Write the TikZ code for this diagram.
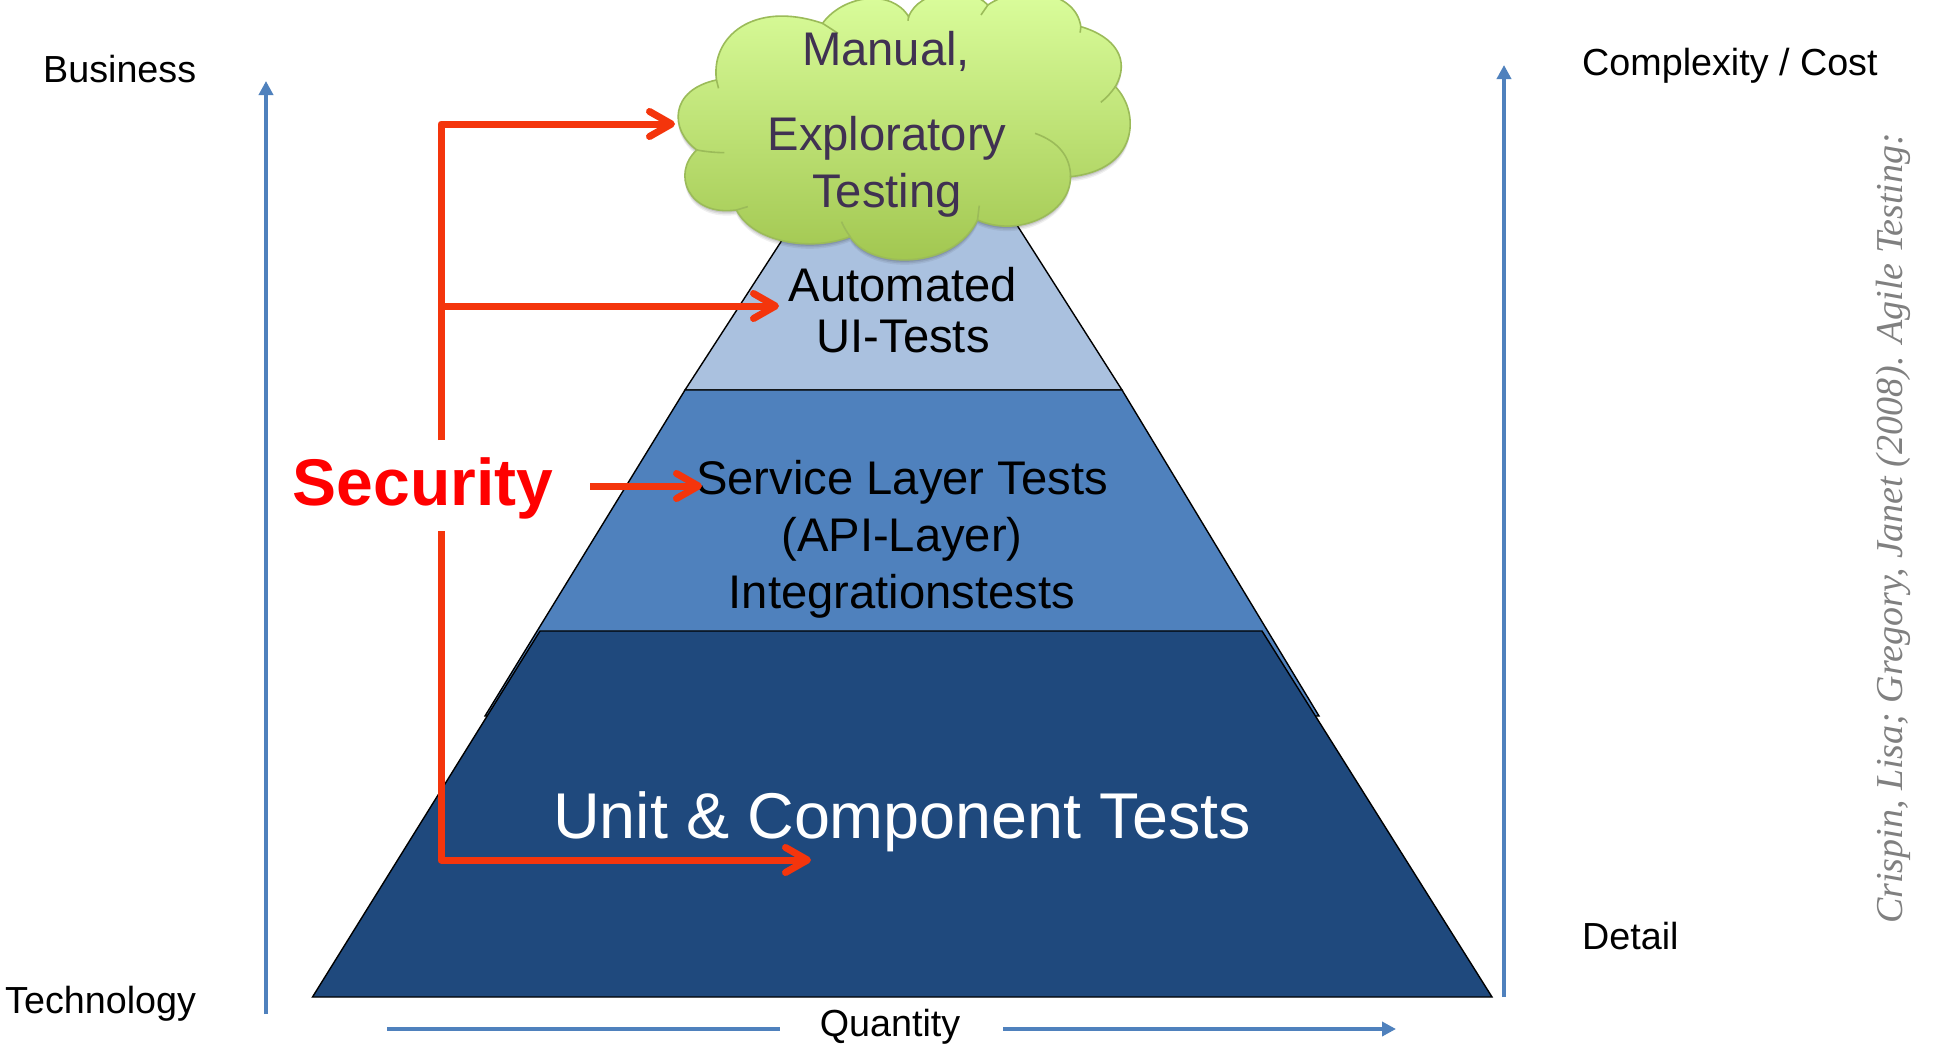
\documentclass[tikz,border=0pt]{standalone}
\usepackage{fontspec}
\setmainfont{Liberation Sans}
\newfontfamily\citefont{Liberation Serif}
\usetikzlibrary{arrows.meta}
\definecolor{layerlight}{HTML}{AAC1DF}
\definecolor{layermid}{HTML}{4F81BD}
\definecolor{layerdark}{HTML}{1F497D}
\definecolor{redline}{HTML}{F4350C}
\definecolor{cloudline}{HTML}{9BBB59}
\definecolor{cloudtext}{HTML}{403152}
\definecolor{cloudtop}{HTML}{DCFF9E}
\definecolor{cloudbot}{HTML}{A0C54E}
\newcommand{\cloudoutline}{(165,450) .. controls (85,390) and (85,270) .. (222,240)
 .. controls (205,110) and (330,0) .. (530,70)
 .. controls (590,-15) and (730,-35) .. (780,50)
 .. controls (810,-30) and (950,-50) .. (1010,15)
 .. controls (1100,-50) and (1265,-30) .. (1280,80)
 .. controls (1380,110) and (1425,180) .. (1380,260)
 .. controls (1455,340) and (1445,510) .. (1250,530)
 .. controls (1250,640) and (1100,715) .. (980,660)
 .. controls (910,810) and (670,810) .. (610,710)
 .. controls (500,755) and (330,730) .. (280,630)
 .. controls (140,650) and (90,520) .. (165,450) -- cycle}
\tikzset{
 layer/.style={draw=black,line width=1.4pt},
 lbl/.style={inner sep=0pt,anchor=base,font=\fontsize{47.2}{50}\selectfont},
 side/.style={inner sep=0pt,anchor=base west,font=\fontsize{37.7}{40}\selectfont},
 redarrow/.style={draw=redline,line width=7pt,line join=round,-{Straight Barb[length=22pt,width=25pt,line width=7pt,round]}},
 bluearrow/.style={draw=layermid,line width=4.6pt,-{Triangle[length=14pt,width=14pt]}},
 blueplain/.style={draw=layermid,line width=4.6pt},
 lobe/.style={draw=cloudline,line width=1.6pt}
}
\begin{document}
\begin{tikzpicture}[x=1pt,y=-1pt]
\useasboundingbox (0,0) rectangle (1937,1044);
\fill[white] (0,0) rectangle (1937,1044);
% pyramid layers
\path[layer,fill=layerlight] (685,390) -- (808,200) -- (1001,200) -- (1122,390) -- cycle;
\path[layer,fill=layermid] (685,390) -- (1122,390) -- (1319,716) -- (485,716) -- cycle;
\path[layer,fill=layerdark] (540,631) -- (1262,631) -- (1492,997) -- (312.5,997) -- cycle;
% cloud
\begin{scope}
\clip (0,0) rectangle (1937,1044);
\begin{scope}[shift={(640,0)},x=0.3444pt,y=-0.3333pt]
\foreach \o/\d in {0.06/5,0.08/3.5,0.10/2}{
 \fill[black,opacity=\o,shift={(0,\d*3)}] \cloudoutline;
}
\shade[top color=cloudtop,bottom color=cloudbot] \cloudoutline;
\draw[lobe] \cloudoutline;
\draw[lobe] (222,240) -- (228,265);
\draw[lobe] (530,70) .. controls (545,80) and (560,90) .. (575,100);
\draw[lobe] (780,50) -- (778,62);
\draw[lobe] (1010,15) -- (990,45);
\draw[lobe] (1280,80) -- (1278,98);
\draw[lobe] (1380,260) .. controls (1368,278) and (1355,293) .. (1338,307);
\draw[lobe] (1147,400) .. controls (1215,425) and (1250,470) .. (1250,530);
\draw[lobe] (980,660) -- (985,617);
\draw[lobe] (610,710) .. controls (600,695) and (592,682) .. (585,665);
\draw[lobe] (280,630) -- (313,620);
\draw[lobe] (165,450) .. controls (190,455) and (220,458) .. (245,458);
\end{scope}
\end{scope}
% texts in the cloud
\node[lbl,text=cloudtext] (manual) at (886,65) {Manual,};
\node[lbl,text=cloudtext] (explor) at (887,150) {Exploratory};
\node[lbl,text=cloudtext] (testing) at (887,207) {Testing};
% layer labels
\node[lbl] (auto) at (903,301.5) {Automated};
\node[lbl] (uitests) at (903,352) {UI-Tests};
\node[lbl] (service) at (902,494) {Service Layer Tests};
\node[lbl] (apilayer) at (902,551) {(API-Layer)};
\node[lbl] (integ) at (902,608) {Integrationstests};
\node[lbl,text=white,font=\fontsize{64.7}{66}\selectfont] (unit) at (902,838) {Unit \& Component Tests};
% side labels
\node[side] (business) at (43,82) {Business};
\node[side] (technology) at (5,1013) {Technology};
\node[side] (complexity) at (1582,75) {Complexity / Cost};
\node[side] (detail) at (1582,949) {Detail};
\node[lbl,font=\fontsize{37.7}{40}\selectfont] (quantity) at (890,1036) {Quantity};
% security
\node[inner sep=0pt,anchor=base,text=red,font=\bfseries\fontsize{66}{68}\selectfont] (security) at (423,505) {Security};
% citation
\node[inner sep=0pt,anchor=base west,rotate=90,text=gray,font=\citefont\itshape\fontsize{38}{40}\selectfont] (cite) at (1902,924) {Crispin, Lisa; Gregory, Janet (2008). Agile Testing:};
% blue axes
\coordinate (lb) at (266,1014); \coordinate (lt) at (266,81);
\coordinate (rb) at (1504,997); \coordinate (rt) at (1504,65);
\coordinate (qa) at (387,1029); \coordinate (qb) at (780,1029);
\coordinate (qc) at (1003,1029); \coordinate (qd) at (1396,1029);
\draw[bluearrow] (lb) -- (lt);
\draw[bluearrow] (rb) -- (rt);
\draw[blueplain] (qa) -- (qb);
\draw[bluearrow] (qc) -- (qd);
% red connectors
\coordinate (spinetop) at (441,440);
\coordinate (spinebot) at (441,531);
\coordinate (cloudtip) at (675,124);
\coordinate (uitip) at (779,306);
\coordinate (unittip) at (811,860);
\coordinate (svcstart) at (590,486);
\coordinate (svctip) at (702,486);
\draw[redarrow] (spinetop) -- (spinetop |- cloudtip) -- (cloudtip);
\draw[redarrow] (spinetop |- uitip) -- (uitip);
\draw[redarrow] (spinebot) -- (spinebot |- unittip) -- (unittip);
\draw[redarrow] (svcstart) -- (svctip);
\end{tikzpicture}
\end{document}
